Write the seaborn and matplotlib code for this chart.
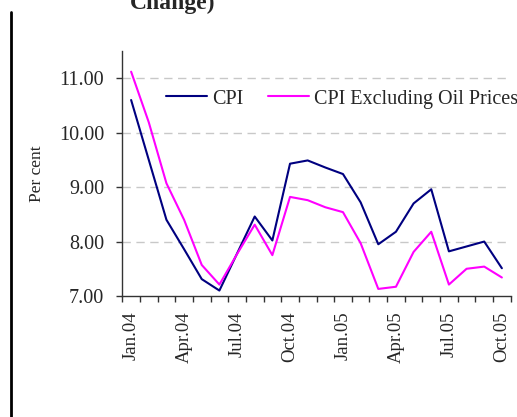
import matplotlib
matplotlib.use("Agg")
import matplotlib.pyplot as plt
from matplotlib.lines import Line2D
import numpy as np
import pandas as pd
import seaborn as sns

# monthly data, Jan.04 .. Oct.05
months = ["Jan.04", "Feb.04", "Mar.04", "Apr.04", "May.04", "Jun.04",
          "Jul.04", "Aug.04", "Sep.04", "Oct.04", "Nov.04", "Dec.04",
          "Jan.05", "Feb.05", "Mar.05", "Apr.05", "May.05", "Jun.05",
          "Jul.05", "Aug.05", "Sep.05", "Oct.05"]
cpi = [10.60, 9.50, 8.40, 7.86, 7.31, 7.10, 7.78, 8.46, 8.02, 9.43, 9.49,
       9.36, 9.24, 8.72, 7.95, 8.18, 8.70, 8.96, 7.82, 7.91, 8.00, 7.51]
cpi_ex_oil = [11.12, 10.19, 9.07, 8.40, 7.57, 7.21, 7.77, 8.31, 7.75, 8.82,
              8.76, 8.63, 8.54, 7.97, 7.13, 7.17, 7.81, 8.18, 7.21, 7.50,
              7.54, 7.34]
series_names = ["CPI", "CPI Excluding Oil Prices"]
series_colors = ["#000080", "#FF00FF"]
label_months = months[::3]

sns.set_style("white")
plt.rcParams["font.family"] = ["Liberation Serif", "DejaVu Serif"]

df = pd.DataFrame({
    "month": months * 2,
    "idx": list(range(len(months))) * 2,
    "value": cpi + cpi_ex_oil,
    "series": [series_names[0]] * len(months) + [series_names[1]] * len(months),
})

fig = plt.figure(figsize=(5.17, 4.17), dpi=100)
ax = fig.add_axes([122.3 / 517, 1 - 296 / 417, 388.4 / 517, 245 / 417])

sns.lineplot(data=df, x="idx", y="value", hue="series", palette=series_colors,
             linewidth=1.5, ax=ax, legend=False)

ax.set_xlim(-0.5, len(months) - 0.5)
ax.set_ylim(7, 11.5)
ax.set_yticks([7, 8, 9, 10, 11])
ax.set_yticklabels(["%.2f" % v for v in [7, 8, 9, 10, 11]], fontsize=14.5)
ax.set_xticks(np.arange(0, len(months), 3))
ax.set_xticklabels(label_months, rotation=90, fontsize=13.5)
ax.set_xticks(np.arange(-0.5, len(months), 1), minor=True)
ax.tick_params(axis="x", which="major", length=0, pad=11)
ax.tick_params(axis="x", which="minor", length=4, width=1, color="#333333", direction="out", bottom=True)
ax.tick_params(axis="y", length=4, width=1, color="#333333", direction="out", left=True, pad=9)

for y in [8, 9, 10, 11]:
    ax.axhline(y, color="#c8c8c8", linewidth=1, linestyle=(0, (6, 4)), zorder=0)

for s in ["top", "right"]:
    ax.spines[s].set_visible(False)
for s in ["left", "bottom"]:
    ax.spines[s].set_color("#333333")
    ax.spines[s].set_linewidth(1)

ax.set_xlabel("")
ax.set_ylabel("Per cent", fontsize=12.5, labelpad=10)

handles = [Line2D([], [], color=c, linewidth=1.5) for c in series_colors]
ax.legend(handles, series_names, ncol=2, frameon=False, fontsize=14.5,
          loc="center left", bbox_to_anchor=(166 / 517, 1 - 99 / 417),
          bbox_transform=fig.transFigure, borderpad=0, borderaxespad=0,
          handlelength=2.05, handletextpad=0.25, columnspacing=1.2)

# clipped title remnant and left frame line
fig.text(173 / 517, 1 - 9 / 417, "Change)", ha="center", va="baseline",
         fontsize=17, fontweight="bold")
fig.add_artist(Line2D([11 / 517, 11 / 517], [0, 1 - 12 / 417],
                      transform=fig.transFigure, color="black", linewidth=2))

fig.savefig("out.png", dpi=100)
